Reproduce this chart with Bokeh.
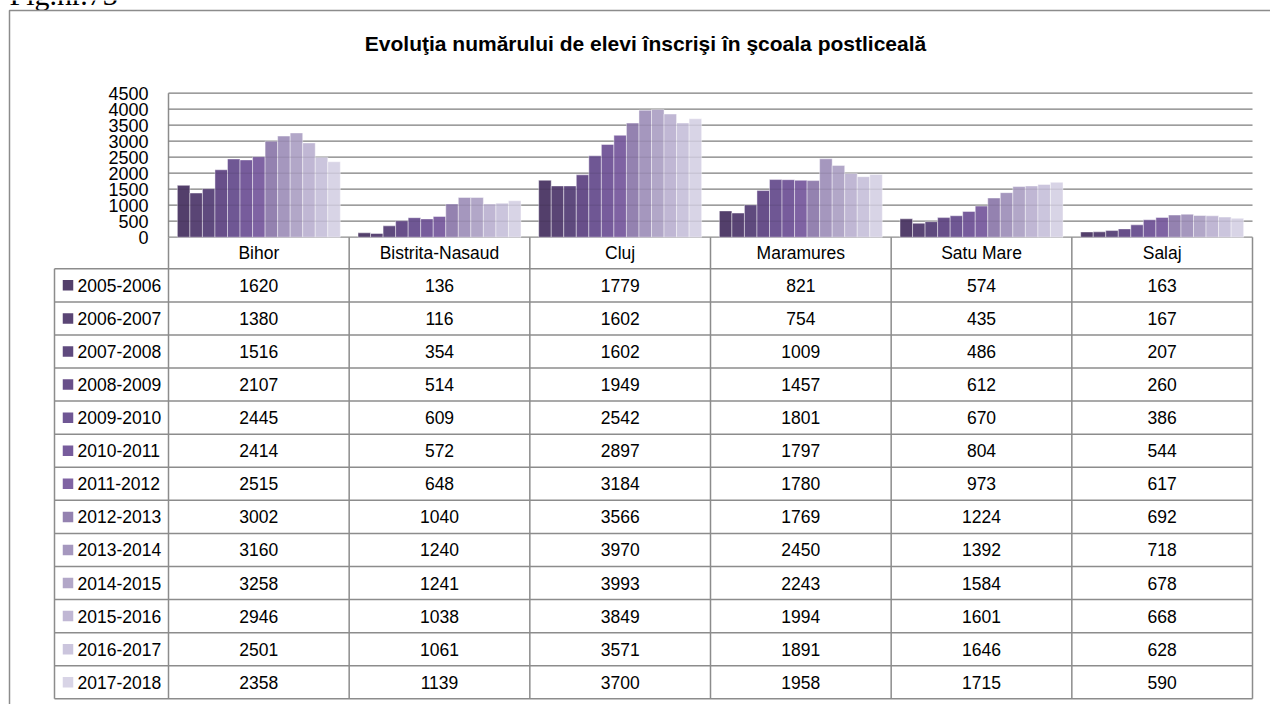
from bokeh.plotting import figure
from bokeh.models import Range1d, ColumnDataSource
from bokeh.transform import dodge
from bokeh.core.properties import value
from bokeh.embed import file_html
from bokeh.resources import INLINE

# ---------------- data ----------------
caption_text = "Fig.nr.73"
title_text = "Evoluţia numărului de elevi înscrişi în şcoala postliceală"
counties = ["Bihor", "Bistrita-Nasaud", "Cluj", "Maramures", "Satu Mare", "Salaj"]
years = ["2005-2006", "2006-2007", "2007-2008", "2008-2009", "2009-2010",
         "2010-2011", "2011-2012", "2012-2013", "2013-2014", "2014-2015",
         "2015-2016", "2016-2017", "2017-2018"]
bihor = [1620, 1380, 1516, 2107, 2445, 2414, 2515, 3002, 3160, 3258, 2946, 2501, 2358]
bistrita_nasaud = [136, 116, 354, 514, 609, 572, 648, 1040, 1240, 1241, 1038, 1061, 1139]
cluj = [1779, 1602, 1602, 1949, 2542, 2897, 3184, 3566, 3970, 3993, 3849, 3571, 3700]
maramures = [821, 754, 1009, 1457, 1801, 1797, 1780, 1769, 2450, 2243, 1994, 1891, 1958]
satu_mare = [574, 435, 486, 612, 670, 804, 973, 1224, 1392, 1584, 1601, 1646, 1715]
salaj = [163, 167, 207, 260, 386, 544, 617, 692, 718, 678, 668, 628, 590]
y_ticks = [0, 500, 1000, 1500, 2000, 2500, 3000, 3500, 4000, 4500]

colors = ["#533f6b", "#5a4575", "#5f4a7e", "#684f8a", "#6f5794", "#775c9c",
          "#7f63a3", "#9482b0", "#a597be", "#b2a7c8", "#c0b7d4", "#cbc5dd", "#d8d4e6"]

# ---------------- layout (page pixels) ----------------
W, H = 1270, 704
OX, OY = 0, 0
PL, PR = 168, 1252          # plot area left / right
Y0, YT = 236.7, 92.7        # page y of value 0 and of top tick
ROW_TOP, ROW_BOT = 268.3, 698.3  # table body
TBL_LEFT = 54
GRAY = "#8c8c8c"
FONT = "Liberation Sans"
FS = "17.5px"

ncat = len(counties)
cat_w = (PR - PL) / ncat
vpp = y_ticks[-1] / (Y0 - YT)
rowh = (ROW_BOT - ROW_TOP) / len(years)

def px_x(px):
    return (px - PL) / cat_w

def px_v(py):
    return (Y0 - py) * vpp

def px_t(py):
    return (py - ROW_TOP) / rowh

p = figure(width=W, height=H, title=None,
           x_range=Range1d(px_x(OX), px_x(OX + W)),
           y_range=Range1d(px_v(OY + H), px_v(OY)),
           output_backend="svg", toolbar_location=None, min_border=0,
           x_axis_location=None, y_axis_location=None)
p.extra_y_ranges = {"tbl": Range1d(px_t(OY + H), px_t(OY))}
p.grid.visible = False
p.outline_line_color = None
p.background_fill_color = "white"
p.border_fill_color = "white"

# caption, cut at the top of the page as in the source image
p.text(x=[px_x(9)], y=[px_v(-6)], text=[caption_text],
       text_font=value("Liberation Serif"), text_font_size="30px",
       text_align="left", text_baseline="middle", text_color="#000000")

# outer frame
fx, fy = px_x(9), px_v(10)
p.line(x=[fx, fx, px_x(OX + W) + 1], y=[px_v(OY + H) - 2000, fy, fy],
       line_color=GRAY, line_width=1.5)

# title
p.text(x=[px_x(645)], y=[px_v(42.5)], text=[title_text],
       text_font=value(FONT), text_font_style="bold",
       text_font_size="21px", text_align="center", text_baseline="middle",
       text_color="#000000")

# gridlines
p.segment(x0=0, x1=ncat, y0=y_ticks, y1=y_ticks, line_color=GRAY, line_width=1.3)
p.segment(x0=[0], x1=[0], y0=[0], y1=[y_ticks[-1]], line_color=GRAY, line_width=1.5)

# y tick labels
p.text(x=px_x(148), y=y_ticks, text=[str(t) for t in y_ticks],
       text_font=value(FONT), text_font_size="18px",
       text_align="right", text_baseline="middle", text_color="#000000")

# bars
series = [bihor, bistrita_nasaud, cluj, maramures, satu_mare, salaj]
data = {"xc": [i + 0.5 for i in range(ncat)]}
for j, yr in enumerate(years):
    data[yr] = [s[j] for s in series]
src = ColumnDataSource(data)
nb = len(years)
bw = 0.902 / nb
for j, yr in enumerate(years):
    off = (j - (nb - 1) / 2) * bw
    p.vbar(x=dodge("xc", off, range=p.x_range), top=yr, bottom=0, width=bw,
           source=src, fill_color=colors[j], line_color="white",
           line_alpha=0.55, line_width=0.8)

# faint gridlines showing through bars
p.segment(x0=0, x1=ncat, y0=y_ticks[1:], y1=y_ticks[1:],
          line_color="#000000", line_alpha=0.1, line_width=1.0)

# ---------------- data table ----------------
t_head = px_t(Y0)
tl = px_x(TBL_LEFT)
rows = list(range(nb + 1))
p.segment(x0=tl, x1=ncat, y0=rows, y1=rows, line_color=GRAY, line_width=1.5,
          y_range_name="tbl")
p.segment(x0=list(range(ncat + 1)), x1=list(range(ncat + 1)),
          y0=t_head, y1=nb, line_color=GRAY, line_width=1.5, y_range_name="tbl")
p.segment(x0=[tl], x1=[tl], y0=[0], y1=[nb], line_color=GRAY, line_width=1.5,
          y_range_name="tbl")

# header
p.text(x=[i + 0.5 for i in range(ncat)], y=t_head / 2,
       text=counties, text_font=value(FONT), text_font_size=FS,
       text_align="center", text_baseline="middle", text_color="#000000",
       y_range_name="tbl")

# legend keys + year labels
yc = [j + 0.5 for j in range(nb)]
p.scatter(x=px_x(67.5), y=yc, marker="square", size=10.5, fill_color=colors,
          line_color=None, y_range_name="tbl")
p.text(x=px_x(77), y=yc, text=years, text_font=value(FONT),
       text_font_size=FS, text_align="left", text_baseline="middle",
       text_color="#000000", y_range_name="tbl")

# values
vx, vy, vt = [], [], []
for i, s in enumerate(series):
    for j, v in enumerate(s):
        vx.append(i + 0.5)
        vy.append(j + 0.5)
        vt.append(str(v))
p.text(x=vx, y=vy, text=vt, text_font=value(FONT), text_font_size=FS,
       text_align="center", text_baseline="middle", text_color="#000000",
       y_range_name="tbl")

open("out.html", "w").write(file_html(p, INLINE))
